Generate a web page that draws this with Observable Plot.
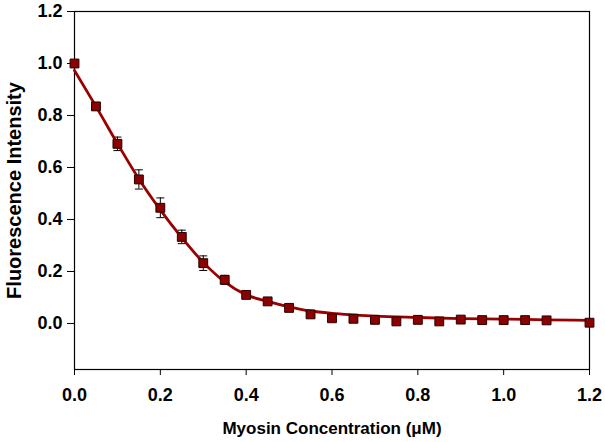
<!DOCTYPE html>
<html>
<head>
<meta charset="utf-8">
<script src="https://cdn.jsdelivr.net/npm/d3@7"></script>
<script src="https://cdn.jsdelivr.net/npm/@observablehq/plot@0.6"></script>
<style>
  html, body { margin: 0; padding: 0; background: #fff; }
</style>
</head>
<body>
<div id="chart"></div>
<script>
// Measured data (Myosin concentration, µM)
const conc = [0, 0.05, 0.10, 0.15, 0.20, 0.25, 0.30, 0.35, 0.40, 0.45, 0.50, 0.55, 0.60, 0.65, 0.70, 0.75, 0.80, 0.85, 0.90, 0.95, 1.00, 1.05, 1.10, 1.20];
const intensity = [1.0, 0.835, 0.691, 0.554, 0.445, 0.333, 0.232, 0.168, 0.110, 0.085, 0.060, 0.035, 0.020, 0.018, 0.014, 0.008, 0.014, 0.008, 0.015, 0.013, 0.013, 0.013, 0.012, 0.003];
const errors = [0.004, 0.014, 0.026, 0.037, 0.038, 0.026, 0.028, 0.017, 0.010, 0.008, 0.007, 0.006, 0.006, 0.005, 0.005, 0.005, 0.005, 0.005, 0.005, 0.005, 0.005, 0.005, 0.005, 0.004];

// Fitted curve
const fitX = [0, 0.05, 0.10, 0.15, 0.20, 0.25, 0.30, 0.35, 0.40, 0.45, 0.50, 0.55, 0.60, 0.65, 0.70, 0.80, 0.90, 1.00, 1.10, 1.20];
const fitY = [0.973, 0.835, 0.692, 0.556, 0.437, 0.330, 0.235, 0.160, 0.110, 0.085, 0.064, 0.048, 0.039, 0.033, 0.028, 0.023, 0.019, 0.017, 0.014, 0.012];

const xTicks = [0, 0.2, 0.4, 0.6, 0.8, 1.0, 1.2];
const yTicks = [0, 0.2, 0.4, 0.6, 0.8, 1.0, 1.2];

const points = conc.map((c, i) => ({x: c, y: intensity[i], lo: intensity[i] - errors[i], hi: intensity[i] + errors[i]}));
const fit = fitX.map((x, i) => ({x, y: fitY[i]}));

const capSymbol = {
  draw(context, size) {
    const r = Math.sqrt(size / Math.PI);
    context.moveTo(-r, 0);
    context.lineTo(r, 0);
  }
};

const chart = Plot.plot({
  width: 605,
  height: 442,
  marginLeft: 74,
  marginRight: 16,
  marginTop: 11,
  marginBottom: 73,
  style: {fontFamily: "'Liberation Sans', Arial, sans-serif", fontSize: "17px", fontWeight: "bold", color: "#000", background: "#fff"},
  x: {domain: [0, 1.2]},
  y: {domain: [-0.177, 1.2]},
  marks: [
    Plot.frame({stroke: "#000", strokeWidth: 1.2}),
    Plot.axisX({ticks: xTicks, tickFormat: d3.format(".1f"), tickSize: 6, tickPadding: 13, fontSize: 18, label: null, stroke: "#000"}),
    Plot.axisX({ticks: [], tickSize: 0, fontSize: 17, label: "Myosin Concentration (\u03BCM)", labelAnchor: "center", labelArrow: "none", labelOffset: 64}),
    Plot.axisY({ticks: yTicks, tickFormat: d3.format(".1f"), tickSize: 7, tickPadding: 5, fontSize: 18, label: null, stroke: "#000"}),
    Plot.axisY({ticks: [], tickSize: 0, fontSize: 20, label: "Fluorescence Intensity", labelAnchor: "center", labelArrow: "none", labelOffset: 68}),
    Plot.ruleX(points, {x: "x", y1: "lo", y2: "hi", stroke: "#000", strokeWidth: 1}),
    Plot.dot(points, {x: "x", y: "hi", symbol: capSymbol, r: 4, stroke: "#000", strokeWidth: 1, fill: "none"}),
    Plot.dot(points, {x: "x", y: "lo", symbol: capSymbol, r: 4, stroke: "#000", strokeWidth: 1, fill: "none"}),
    Plot.line(fit, {x: "x", y: "y", curve: "monotone-x", stroke: "#990000", strokeWidth: 2.8}),
    Plot.dot(points, {x: "x", y: "y", symbol: "square", r: 5, fill: "#8b0000", stroke: "#2a0000", strokeWidth: 1})
  ]
});
document.getElementById("chart").appendChild(chart);
</script>
</body>
</html>
